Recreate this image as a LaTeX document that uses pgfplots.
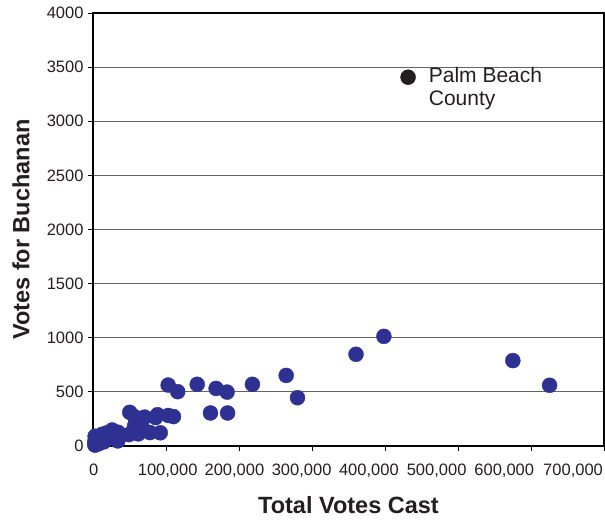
\documentclass[border=0pt]{standalone}
\usepackage{pgfplots}
\pgfplotsset{compat=1.18}
\usepackage{fontspec}
\setmainfont{Liberation Sans}

\definecolor{dotblue}{RGB}{46,49,146}
\definecolor{dotblack}{RGB}{32,30,31}
\definecolor{gridgray}{RGB}{100,100,100}
\definecolor{textgray}{RGB}{35,31,32}

% Florida counties, 2000: total votes cast vs. votes for Buchanan
\pgfplotstableread{
total buchanan
85729 263
8154 73
58805 248
8673 65
218395 570
575143 789
2873 90
66896 182
57204 270
56995 186
92162 122
18508 89
625449 561
7811 36
4666 29
264636 652
116009 502
25905 83
4575 33
14727 38
5321 29
3058 9
5844 71
3961 23
6233 30
8122 22
60868 242
34372 127
360295 847
7456 76
49031 105
16285 102
5643 29
2515 10
88393 289
184377 305
103124 282
12724 67
2410 39
6162 29
110221 272
102956 563
62013 112
33887 47
23780 90
70680 267
9853 43
280125 446
55867 145
142731 570
398472 1013
168607 532
26222 148
60746 229
77989 124
50319 311
160942 305
22261 114
12457 108
6808 27
3826 37
183653 498
8587 46
18318 120
7325 88
}\counties

\pgfplotstableread{
total buchanan
431621 3407
}\palmbeach

\begin{document}
\begin{tikzpicture}
\begin{axis}[
  scale only axis,
  width=511bp, height=433bp,
  xmin=0, xmax=700000,
  ymin=0, ymax=4000,
  clip=false,
  axis line style={black, line width=1.5bp},
  tick style={black, line width=0.8bp},
  tick align=outside,
  major tick length=5bp,
  xtick pos=bottom, ytick pos=left,
  xtick={0,100000,...,700000},
  xticklabels={},
  scaled x ticks=false,
  extra x ticks={1000,102300,193700,285800,377900,470700,563400,657600},
  extra x tick labels={0,{100,000},{200,000},{300,000},{400,000},{500,000},{600,000},{700,000}},
  extra x tick style={major tick length=0pt, grid=none},
  ytick={0,500,...,4000},
  ymajorgrids,
  grid style={gridgray, line width=0.9bp},
  /pgf/number format/assume math mode=true,
  /pgf/number format/set thousands separator={},
  tick label style={font=\fontsize{16.5bp}{19bp}\selectfont, text=textgray},
  xticklabel style={yshift=-14bp},
  yticklabel style={xshift=-1bp},
  xlabel={Total Votes Cast},
  ylabel={Votes for Buchanan},
  label style={font=\bfseries\fontsize{23.5bp}{27bp}\selectfont, text=textgray},
  xlabel style={at={(axis description cs:0.5,0)}, anchor=base, yshift=-67bp},
  ylabel style={at={(axis description cs:0,0.5)}, anchor=center, yshift=72bp},
]
\addplot[only marks, mark=*, mark size=7.5bp, dotblue, mark options={draw=none, fill=dotblue}]
  table[x=total, y=buchanan] {\counties};
\addplot[only marks, mark=*, mark size=7.5bp, dotblack, mark options={draw=none, fill=dotblack}]
  table[x=total, y=buchanan] {\palmbeach};
\node[anchor=north west, inner sep=0pt, align=left, text=textgray,
      font=\fontsize{21bp}{23.5bp}\selectfont]
  at (axis cs:459800,3501) {Palm Beach\\County};
\end{axis}
\pgfresetboundingbox
\path ([shift={(-93bp,-74bp)}]current axis.south west) rectangle ([shift={(1bp,13bp)}]current axis.north east);
\end{tikzpicture}
\end{document}
